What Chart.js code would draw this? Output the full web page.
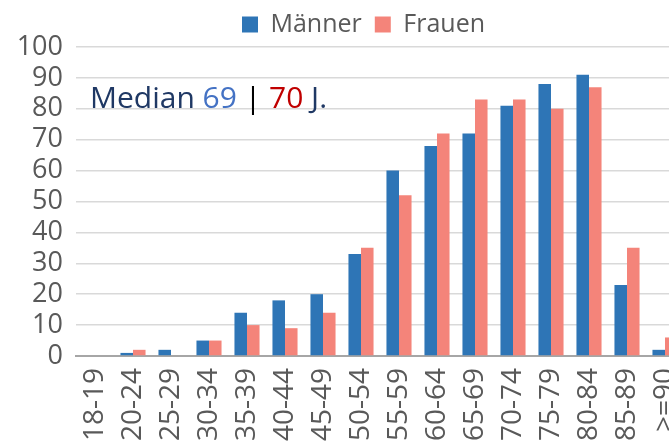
<!DOCTYPE html>
<html>
<head>
<meta charset="utf-8">
<script src="https://cdn.jsdelivr.net/npm/chart.js@4.4.1/dist/chart.umd.min.js"></script>
<style>
html,body{margin:0;padding:0;overflow:hidden;background:#fff;width:669px;height:444px;}
#wrap{position:absolute;left:0;top:0;width:727px;height:444px;}
</style>
</head>
<body>
<div id="wrap"><canvas id="c" width="727" height="444"></canvas></div>
<script>
const categories = ["18-19","20-24","25-29","30-34","35-39","40-44","45-49","50-54","55-59","60-64","65-69","70-74","75-79","80-84","85-89",">=90"];
const maenner = [0,1,2,5,14,18,20,33,60,68,72,81,88,91,23,2];
const frauen  = [0,2,0,5,10,9,14,35,52,72,83,83,80,87,35,6];
const yTicks = [0,10,20,30,40,50,60,70,80,90,100];
const seriesNames = ["Männer","Frauen"];
const medianParts = [["Median ","#1F3864"],["69","#4472C4"],[" | ","#000000"],["70","#C00000"],[" J.","#1F3864"]];

const FONT = "'Open Sans', 'Noto Sans', sans-serif";

const medianPlugin = {
  id: 'median',
  afterDraw(chart) {
    const ctx = chart.ctx;
    const area = chart.chartArea;
    ctx.save();
    ctx.font = "30px " + FONT;
    ctx.textBaseline = 'alphabetic';
    ctx.textAlign = 'left';
    let x = area.left + 14;
    const y = 108;
    for (const [t, col] of medianParts) {
      ctx.fillStyle = col;
      ctx.fillText(t, x, y);
      x += ctx.measureText(t).width;
    }
    ctx.restore();
  }
};

new Chart(document.getElementById('c'), {
  type: 'bar',
  data: {
    labels: categories,
    datasets: [
      {label: seriesNames[0], data: maenner, backgroundColor: '#2E75B6', categoryPercentage: 0.66, barPercentage: 1.0},
      {label: seriesNames[1], data: frauen, backgroundColor: '#F4847A', categoryPercentage: 0.66, barPercentage: 1.0}
    ]
  },
  options: {
    responsive: false,
    animation: false,
    devicePixelRatio: 1,
    layout: {padding: {left: 0, right: 0, top: -1, bottom: 0}},
    plugins: {
      legend: {
        position: 'top',
        labels: {boxWidth: 16, boxHeight: 16, color: '#595959', font: {family: FONT, size: 25}, padding: 13}
      },
      tooltip: {enabled: false}
    },
    scales: {
      x: {
        grid: {display: false, drawTicks: false},
        border: {color: '#a6a6a6', width: 2},
        ticks: {color: '#595959', font: {family: FONT, size: 28}, minRotation: 90, maxRotation: 90, autoSkip: false, padding: 12},
        afterFit(s) { s.height = 88; }
      },
      y: {
        min: 0, max: 100,
        afterBuildTicks(s) { s.ticks = yTicks.map(v => ({value: v})); },
        grid: {color: '#d9d9d9', lineWidth: 1.5, drawTicks: false},
        border: {display: false},
        ticks: {color: '#595959', font: {family: FONT, size: 27, lineHeight: 1}, padding: 13, autoSkip: false},
        afterFit(s) { s.width = 76; }
      },
      yRight: {
        position: 'right',
        display: true,
        grid: {display: false, drawTicks: false},
        border: {display: false},
        ticks: {display: false},
        afterFit(s) { s.width = 43; }
      }
    }
  },
  plugins: [medianPlugin]
});
</script>
</body>
</html>
